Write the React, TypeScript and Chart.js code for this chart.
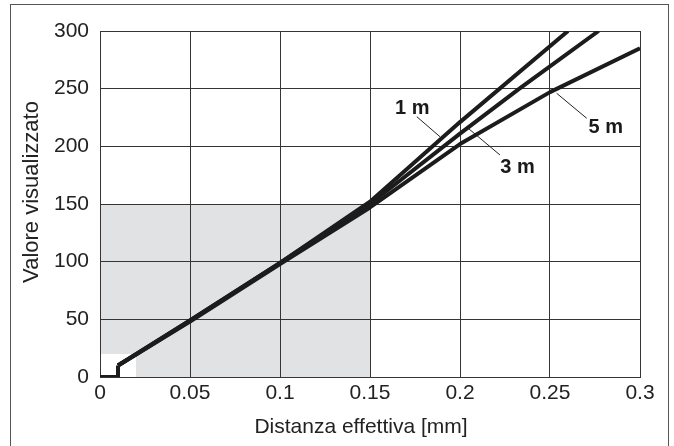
import React, { useEffect, useRef } from "react";
import { Chart, registerables } from "chart.js";

Chart.register(...registerables);

const X_TITLE = "Distanza effettiva [mm]";
const Y_TITLE = "Valore visualizzato";
const X_TICK_LABELS = ["0", "0.05", "0.1", "0.15", "0.2", "0.25", "0.3"];
const Y_TICK_LABELS = ["0", "50", "100", "150", "200", "250", "300"];

const STEP_X = [0, 0.01, 0.01];
const STEP_Y = [0, 0, 10];

const X_1M = [0.01, 0.05, 0.1, 0.15, 0.2, 0.26];
const Y_1M = [10, 49, 99, 152, 221, 300];
const X_3M = [0.01, 0.05, 0.1, 0.15, 0.2, 0.233, 0.277];
const Y_3M = [10, 49, 99, 150, 211, 250, 300];
const X_5M = [0.01, 0.05, 0.1, 0.15, 0.2, 0.25, 0.3];
const Y_5M = [10, 48, 98, 147, 202, 247, 285];

const LABEL_TEXT = ["1 m", "3 m", "5 m"];
const LABEL_X = [0.1735, 0.232, 0.281];
const LABEL_Y = [233, 182, 216.5];
const LEADER_X = [
  [0.176, 0.1889],
  [0.2222, 0.2046],
  [0.2704, 0.2537],
];
const LEADER_Y = [
  [225.7, 208.3],
  [192.5, 215.6],
  [224.3, 246],
];

const SHADE_X = [0, 0.15];
const SHADE_Y = [0, 150];
const CUT_X = [0, 0.02];
const CUT_Y = [0, 20];

const FONT = "'Liberation Sans', Arial, Helvetica, sans-serif";
const TEXT = "#222";
const GRID = "#353535";

const toPts = (xs: number[], ys: number[]) => xs.map((x, i) => ({ x, y: ys[i] }));

const shadePlugin = {
  id: "shade",
  beforeDraw(chart: any) {
    const { ctx, scales } = chart;
    const x = scales.x;
    const y = scales.y;
    ctx.save();
    ctx.fillStyle = "#e1e2e4";
    const x0 = x.getPixelForValue(SHADE_X[0]);
    const x1 = x.getPixelForValue(SHADE_X[1]);
    const y0 = y.getPixelForValue(SHADE_Y[0]);
    const y1 = y.getPixelForValue(SHADE_Y[1]);
    ctx.fillRect(x0, y1, x1 - x0, y0 - y1);
    ctx.fillStyle = "#ffffff";
    const cx0 = x.getPixelForValue(CUT_X[0]);
    const cx1 = x.getPixelForValue(CUT_X[1]);
    const cy0 = y.getPixelForValue(CUT_Y[0]);
    const cy1 = y.getPixelForValue(CUT_Y[1]);
    ctx.fillRect(cx0, cy1, cx1 - cx0, cy0 - cy1);
    ctx.restore();
  },
};

const labelPlugin = {
  id: "labels",
  afterDatasetsDraw(chart: any) {
    const { ctx, scales } = chart;
    ctx.save();
    ctx.font = `bold 20px ${FONT}`;
    ctx.fillStyle = "#1a1a1a";
    ctx.textAlign = "center";
    ctx.textBaseline = "middle";
    LABEL_TEXT.forEach((t, i) => {
      ctx.fillText(t, scales.x.getPixelForValue(LABEL_X[i]), scales.y.getPixelForValue(LABEL_Y[i]));
    });
    ctx.restore();
  },
};

const titlePlugin = {
  id: "titles",
  afterDraw(chart: any) {
    const { ctx } = chart;
    ctx.save();
    ctx.fillStyle = TEXT;
    ctx.textAlign = "center";
    ctx.textBaseline = "middle";
    ctx.font = `21px ${FONT}`;
    ctx.fillText(X_TITLE, 361, 427);
    ctx.translate(32, 192);
    ctx.rotate(-Math.PI / 2);
    ctx.font = `22px ${FONT}`;
    ctx.fillText(Y_TITLE, 0, 0);
    ctx.restore();
  },
};

export default function App() {
  const ref = useRef<HTMLCanvasElement>(null);
  useEffect(() => {
    if (!ref.current) return;
    const lineStyle = {
      borderColor: "#1c1c1c",
      borderWidth: 4,
      pointRadius: 0,
      showLine: true,
      fill: false,
      tension: 0,
      borderJoinStyle: "round" as const,
    };
    const leaderStyle = {
      borderColor: "#222",
      borderWidth: 1,
      pointRadius: 0,
      showLine: true,
      fill: false,
    };
    const chart = new Chart(ref.current, {
      type: "scatter",
      data: {
        datasets: [
          { label: "step", data: toPts(STEP_X, STEP_Y), ...lineStyle, borderJoinStyle: "miter" as const },
          { label: "1 m", data: toPts(X_1M, Y_1M), ...lineStyle },
          { label: "3 m", data: toPts(X_3M, Y_3M), ...lineStyle },
          { label: "5 m", data: toPts(X_5M, Y_5M), ...lineStyle },
          ...LEADER_X.map((xs, i) => ({
            label: "leader " + LABEL_TEXT[i],
            data: toPts(xs, LEADER_Y[i]),
            ...leaderStyle,
          })),
        ],
      },
      options: {
        animation: false,
        responsive: false,
        maintainAspectRatio: false,
        layout: { padding: { left: 0, top: 31, right: 34, bottom: 0 } },
        plugins: {
          legend: { display: false },
          tooltip: { enabled: false },
        },
        scales: {
          x: {
            type: "linear",
            min: 0,
            max: 0.3,
            afterFit: (s: any) => {
              s.height = 69;
            },
            ticks: {
              stepSize: 0.05,
              padding: 4,
              color: TEXT,
              font: { family: FONT, size: 21 },
              maxRotation: 0,
              callback: (_v: any, i: number) => X_TICK_LABELS[i],
            },
            grid: { color: GRID, lineWidth: 1, drawTicks: false },
            border: { color: GRID, width: 1 },
          },
          y: {
            type: "linear",
            min: 0,
            max: 300,
            afterFit: (s: any) => {
              s.width = 100;
            },
            ticks: {
              stepSize: 50,
              padding: 11,
              color: TEXT,
              font: { family: FONT, size: 21 },
              callback: (_v: any, i: number) => Y_TICK_LABELS[i],
            },
            grid: { color: GRID, lineWidth: 1, drawTicks: false },
            border: { color: GRID, width: 1 },
          },
        },
      },
      plugins: [shadePlugin, labelPlugin, titlePlugin],
    });
    return () => chart.destroy();
  }, []);
  return (
    <div
      style={{
        position: "fixed",
        left: 0,
        top: 0,
        width: 674,
        height: 446,
        overflow: "hidden",
        background: "#fff",
      }}
    >
      <div
        style={{
          position: "absolute",
          left: 10,
          top: 4,
          width: 659,
          height: 470,
          border: "1px solid #555",
          boxSizing: "border-box",
        }}
      />
      <canvas
        ref={ref}
        width={674}
        height={446}
        style={{ position: "absolute", left: 0, top: 0, width: 674, height: 446 }}
      />
    </div>
  );
}
